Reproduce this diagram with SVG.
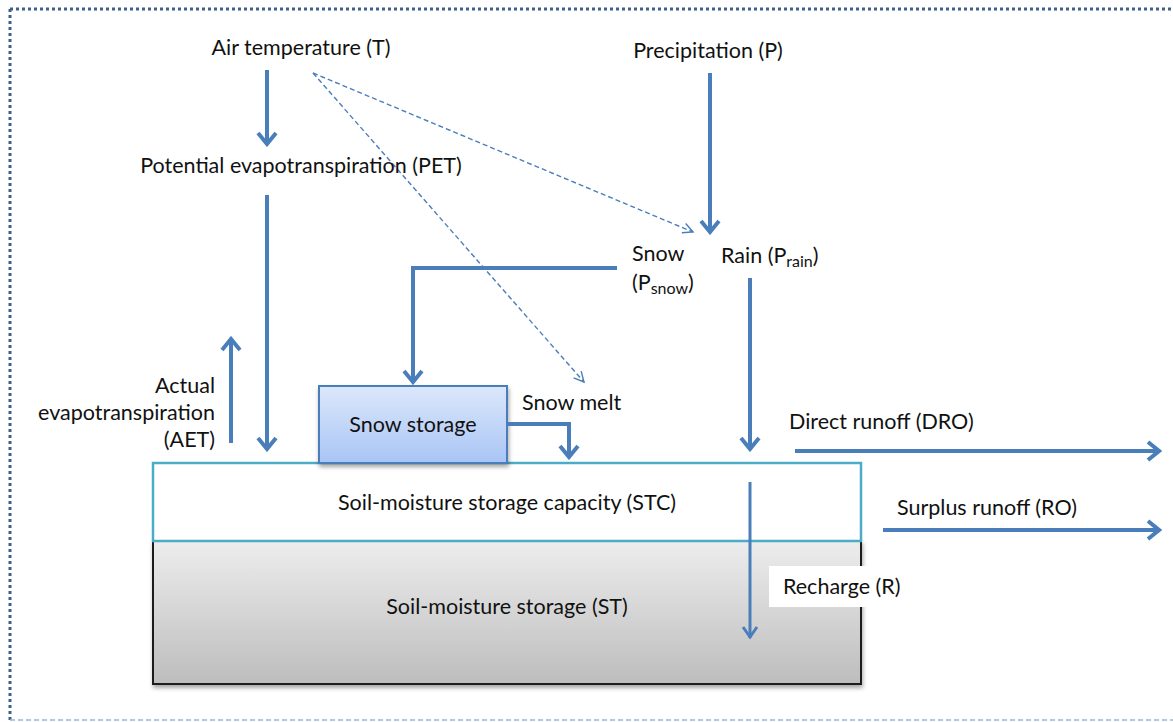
<svg xmlns="http://www.w3.org/2000/svg" width="1173" height="722" viewBox="0 0 1173 722">
<style>
text{font-family:Lato,"Open Sans","Liberation Sans",sans-serif;font-size:21.5px;fill:#111}
.c{text-anchor:middle}
.r{text-anchor:end}
.sub{font-size:16px}
.th{fill:none;stroke:#4A7EBB;stroke-width:4}
.tm{fill:none;stroke:#4A7EBB;stroke-width:3}
.ds{fill:none;stroke:#4A7EBB;stroke-width:1.4;stroke-dasharray:5 3}
</style>
<defs>
<marker id="ah" markerUnits="userSpaceOnUse" viewBox="-15 -11 17 22" refX="0" refY="0" markerWidth="17" markerHeight="22" orient="auto">
<path d="M-12,-9 L-1,0 L-12,9" fill="none" stroke="#4A7EBB" stroke-width="4"/>
</marker>
<marker id="ahm" markerUnits="userSpaceOnUse" viewBox="-14 -10 16 20" refX="0" refY="0" markerWidth="16" markerHeight="20" orient="auto">
<path d="M-11,-7 L-1,0 L-11,7" fill="none" stroke="#4A7EBB" stroke-width="3"/>
</marker>
<marker id="ahd" markerUnits="userSpaceOnUse" viewBox="-12 -8 14 16" refX="0" refY="0" markerWidth="14" markerHeight="16" orient="auto">
<path d="M-10,-5 L0,0 L-10,5" fill="none" stroke="#4A7EBB" stroke-width="1.4"/>
</marker>
<linearGradient id="gb" x1="0" y1="0" x2="0" y2="1">
<stop offset="0" stop-color="#DCE7FB"/><stop offset="1" stop-color="#A9C5F5"/>
</linearGradient>
<linearGradient id="gg" x1="0" y1="0" x2="0" y2="1">
<stop offset="0" stop-color="#EDEDED"/><stop offset="1" stop-color="#BDBDBD"/>
</linearGradient>
<filter id="sh" x="-10%" y="-10%" width="120%" height="130%">
<feDropShadow dx="1" dy="3" stdDeviation="2" flood-color="#000" flood-opacity="0.35"/>
</filter>
</defs>

<g id="border">
<line x1="10" y1="9" x2="1173" y2="9" stroke="#3F5F8C" stroke-width="3" stroke-dasharray="3 3"/>
<line x1="10" y1="9" x2="10" y2="722" stroke="#3F5F8C" stroke-width="3" stroke-dasharray="3 3"/>
<line x1="10" y1="720" x2="1173" y2="720" stroke="#9FB6D3" stroke-width="1.5" stroke-dasharray="5 3"/>
</g>

<g id="soil-storage">
<rect x="153" y="541" width="708" height="143" fill="url(#gg)" stroke="#1a1a1a" stroke-width="2" filter="url(#sh)"/>
<text class="c" x="507" y="614">Soil-moisture storage (ST)</text>
</g>
<g id="soil-capacity">
<rect x="153" y="463" width="708" height="78" fill="#fff" stroke="#4BACC6" stroke-width="2.5"/>
<text class="c" x="507" y="510">Soil-moisture storage capacity (STC)</text>
</g>
<g id="snow-storage">
<rect x="319" y="386" width="188" height="77" fill="url(#gb)" stroke="#4A7EBB" stroke-width="2" filter="url(#sh)"/>
<text class="c" x="413" y="432">Snow storage</text>
</g>

<g id="connectors">
<line class="th" x1="267" y1="70" x2="267" y2="145" marker-end="url(#ah)"/>
<line class="th" x1="267" y1="195" x2="267" y2="450" marker-end="url(#ah)"/>
<line class="th" x1="231" y1="443" x2="231" y2="338" marker-end="url(#ah)"/>
<line class="th" x1="710" y1="73" x2="710" y2="233" marker-end="url(#ah)"/>
<line class="ds" x1="313" y1="73" x2="693" y2="232" marker-end="url(#ahd)"/>
<line class="ds" x1="313" y1="73" x2="584" y2="382" marker-end="url(#ahd)"/>
<polyline class="th" points="617,268 413,268 413,383" marker-end="url(#ah)"/>
<polyline class="th" points="507,424 569,424 569,458" marker-end="url(#ah)"/>
<line class="th" x1="750" y1="278" x2="750" y2="450" marker-end="url(#ah)"/>
<line class="tm" x1="750" y1="482" x2="750" y2="638" marker-end="url(#ahm)"/>
<line class="th" x1="795" y1="451" x2="1160" y2="451" marker-end="url(#ah)"/>
<line class="th" x1="883" y1="530" x2="1160" y2="530" marker-end="url(#ah)"/>
</g>

<g id="air-temperature"><text class="c" x="301" y="55">Air temperature (T)</text></g>
<g id="precipitation"><text class="c" x="708" y="58">Precipitation (P)</text></g>
<g id="pet"><text class="c" x="301" y="173">Potential evapotranspiration (PET)</text></g>
<g id="aet">
<text class="r" x="215" y="393">Actual</text>
<text class="r" x="215" y="420">evapotranspiration</text>
<text class="r" x="215" y="447">(AET)</text>
</g>
<g id="snow">
<text x="632" y="261">Snow</text>
<text x="632" y="290">(P<tspan class="sub" dy="4">snow</tspan><tspan dy="-4">)</tspan></text>
</g>
<g id="rain"><text x="721" y="263">Rain (P<tspan class="sub" dy="4">rain</tspan><tspan dy="-4">)</tspan></text></g>
<g id="snow-melt"><text x="522" y="410">Snow melt</text></g>
<g id="direct-runoff"><text x="789" y="429">Direct runoff (DRO)</text></g>
<g id="surplus-runoff"><text x="897" y="515">Surplus runoff (RO)</text></g>
<g id="recharge">
<rect x="769" y="566" width="138" height="41" fill="#fff"/>
<text x="783" y="594">Recharge (R)</text>
</g>
</svg>
